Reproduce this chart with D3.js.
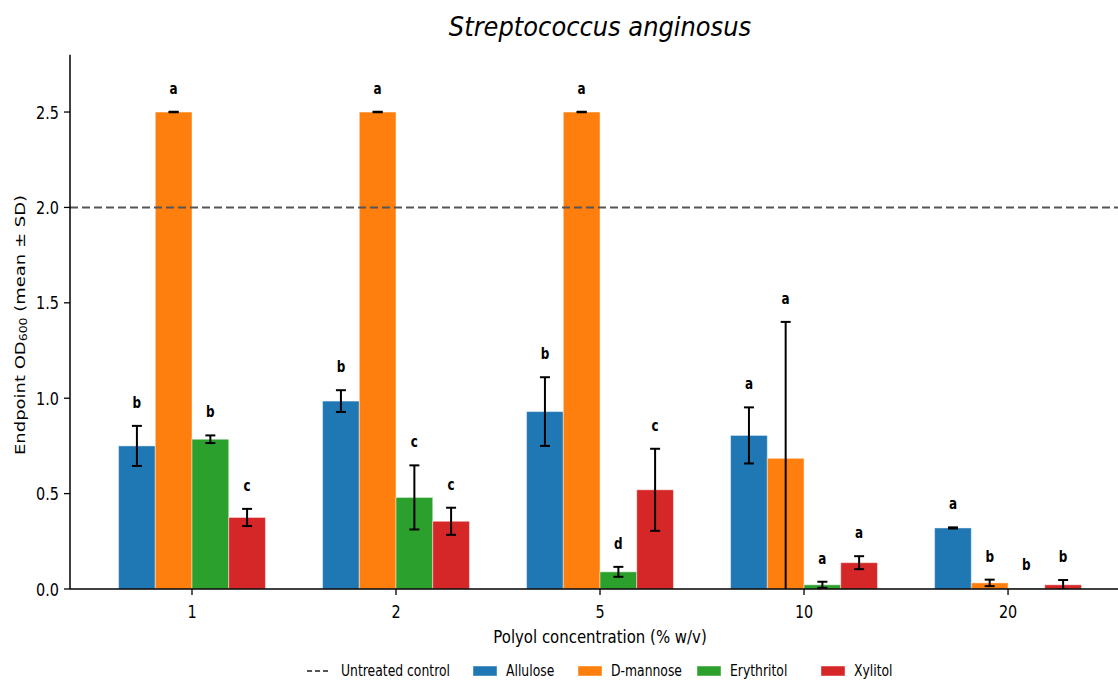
<!DOCTYPE html>
<html>
<head>
<meta charset="utf-8">
<script src="https://cdn.jsdelivr.net/npm/d3@7"></script>
<style>
  html, body { margin: 0; padding: 0; background: #fff; }
  svg { display: block; font-family: "DejaVu Sans", sans-serif; }
</style>
</head>
<body>
<svg id="chart" width="1118" height="680"></svg>
<script>
// Endpoint OD600 of S. anginosus grown with polyols at several concentrations
const concentrations = ["1", "2", "5", "10", "20"];
const seriesNames = ["Allulose", "D-mannose", "Erythritol", "Xylitol"];
const seriesColors = ["#1f77b4", "#ff7f0e", "#2ca02c", "#d62728"];

const allulose      = [0.750, 0.985, 0.930, 0.805, 0.320];
const alluloseSD    = [0.105, 0.057, 0.180, 0.147, 0.003];
const mannose       = [2.500, 2.500, 2.500, 0.685, 0.032];
const mannoseSD     = [0.001, 0.001, 0.001, 0.715, 0.017];
const erythritol    = [0.785, 0.480, 0.090, 0.022, 0.003];
const erythritolSD  = [0.020, 0.168, 0.026, 0.016, 0.000];
const xylitol       = [0.375, 0.355, 0.520, 0.138, 0.022];
const xylitolSD     = [0.045, 0.071, 0.215, 0.034, 0.025];

// compact-letter display from the post-hoc comparisons
const alluloseLetters    = ["b", "b", "b", "a", "a"];
const mannoseLetters     = ["a", "a", "a", "a", "b"];
const erythritolLetters  = ["b", "c", "d", "a", "b"];
const xylitolLetters     = ["c", "c", "c", "a", "b"];

const controlValue = 2.0;
const yTicks = [0, 0.5, 1.0, 1.5, 2.0, 2.5];

const means   = [allulose, mannose, erythritol, xylitol];
const sds     = [alluloseSD, mannoseSD, erythritolSD, xylitolSD];
const letters = [alluloseLetters, mannoseLetters, erythritolLetters, xylitolLetters];

const svg = d3.select("#chart");
const plotLeft = 70, plotRight = 1118, plotTop = 54.8, plotBottom = 589;

// text drawn slightly condensed horizontally
function label(g, px, py, str, opts = {}) {
  const sx = opts.sx ?? 0.8;
  return g.append("text")
    .attr("transform", `translate(${px},${py}) scale(${sx},1)`)
    .attr("text-anchor", opts.anchor || "middle")
    .attr("font-size", opts.size || 17)
    .attr("font-weight", opts.weight || "normal")
    .attr("font-style", opts.style || "normal")
    .attr("fill", opts.fill || "#000")
    .text(str);
}

const x = d3.scaleLinear().domain([-0.598, 4.539]).range([plotLeft, plotRight]);
const y = d3.scaleLinear().domain([0, 2.8]).range([plotBottom, plotTop]);
const barW = 0.18;

svg.append("defs").append("clipPath").attr("id", "plotclip")
  .append("rect").attr("x", plotLeft).attr("y", plotTop)
  .attr("width", plotRight - plotLeft).attr("height", plotBottom - plotTop);

const plot = svg.append("g").attr("clip-path", "url(#plotclip)");

// one record per bar
const rows = [];
seriesNames.forEach((name, s) => {
  concentrations.forEach((c, i) => {
    rows.push({ s, i, m: means[s][i], sd: sds[s][i], letter: letters[s][i],
      cx: i + (s - 1.5) * barW });
  });
});

plot.selectAll("rect.bar").data(rows).join("rect")
  .attr("class", "bar")
  .attr("x", d => x(d.cx - barW / 2))
  .attr("width", d => x(d.cx + barW / 2) - x(d.cx - barW / 2))
  .attr("y", d => y(d.m))
  .attr("height", d => y(0) - y(d.m))
  .attr("fill", d => seriesColors[d.s])
  .attr("stroke", "#ffffff")
  .attr("stroke-opacity", 0.45)
  .attr("stroke-width", 1);

// error bars (mean ± SD)
const eb = plot.selectAll("g.err").data(rows.filter(d => d.sd > 0)).join("g").attr("class", "err")
  .attr("stroke", "#000").attr("stroke-width", 2);
eb.append("line")
  .attr("x1", d => x(d.cx)).attr("x2", d => x(d.cx))
  .attr("y1", d => y(d.m - d.sd)).attr("y2", d => y(d.m + d.sd));
eb.append("line")
  .attr("x1", d => x(d.cx) - 5).attr("x2", d => x(d.cx) + 5)
  .attr("y1", d => y(d.m + d.sd)).attr("y2", d => y(d.m + d.sd));
eb.append("line")
  .attr("x1", d => x(d.cx) - 5).attr("x2", d => x(d.cx) + 5)
  .attr("y1", d => y(d.m - d.sd)).attr("y2", d => y(d.m - d.sd));

// untreated control reference
plot.append("line")
  .attr("x1", plotLeft).attr("x2", plotRight)
  .attr("y1", y(controlValue)).attr("y2", y(controlValue))
  .attr("stroke", "#555").attr("stroke-width", 2).attr("stroke-dasharray", "8,4");

// significance letters
const lettersG = svg.append("g");
rows.forEach(d => {
  label(lettersG, x(d.cx), y(d.m + d.sd + 0.095), d.letter, { size: 15, weight: "bold" });
});

// axes
const yAxis = svg.append("g").attr("transform", `translate(${plotLeft},0)`);
yAxis.append("line").attr("x1", 0).attr("x2", 0).attr("y1", plotTop).attr("y2", plotBottom)
  .attr("stroke", "#000").attr("stroke-width", 1.5);
yTicks.forEach(t => {
  yAxis.append("line").attr("x1", -6).attr("x2", 0).attr("y1", y(t)).attr("y2", y(t))
    .attr("stroke", "#000").attr("stroke-width", 1.3);
  label(yAxis, -11, y(t) + 6.5, d3.format(".1f")(t), { anchor: "end", size: 18 });
});

const xAxis = svg.append("g").attr("transform", `translate(0,${plotBottom})`);
xAxis.append("line").attr("x1", plotLeft).attr("x2", plotRight).attr("y1", 0).attr("y2", 0)
  .attr("stroke", "#000").attr("stroke-width", 1.5);
concentrations.forEach((c, i) => {
  xAxis.append("line").attr("x1", x(i)).attr("x2", x(i)).attr("y1", 0).attr("y2", 6)
    .attr("stroke", "#000").attr("stroke-width", 1.3);
  label(xAxis, x(i), 29, c, { size: 18 });
});

// axis titles and heading
label(svg, 600, 643, "Polyol concentration (% w/v)", { size: 18, sx: 0.83 });

const yl = svg.append("text")
  .attr("transform", `translate(25,325) scale(0.8,1) rotate(-90)`)
  .attr("text-anchor", "middle").attr("font-size", 18).attr("fill", "#000");
yl.append("tspan").text("Endpoint OD");
yl.append("tspan").attr("font-size", 12.5).attr("dy", 3).text("600");
yl.append("tspan").attr("dy", -3).text(" (mean ± SD)");

label(svg, 600, 36, "Streptococcus anginosus", { size: 26, style: "italic", sx: 0.93 });

// legend
const legend = svg.append("g");
legend.append("line").attr("x1", 307).attr("x2", 331).attr("y1", 671).attr("y2", 671)
  .attr("stroke", "#555").attr("stroke-width", 2).attr("stroke-dasharray", "5,3");
label(legend, 341, 676, "Untreated control", { anchor: "start", size: 15.5 });
const legendX = [473, 578, 697, 821];
seriesNames.forEach((name, s) => {
  legend.append("rect").attr("x", legendX[s]).attr("y", 666).attr("width", 24).attr("height", 10)
    .attr("fill", seriesColors[s]).attr("stroke", "#fff").attr("stroke-opacity", 0.45);
  label(legend, legendX[s] + 33, 676, name, { anchor: "start", size: 15.5 });
});
</script>
</body>
</html>
